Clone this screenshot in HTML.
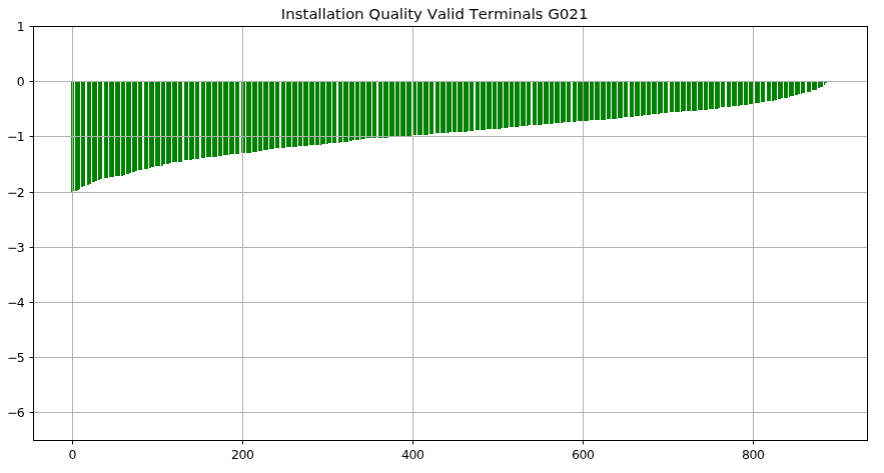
<!DOCTYPE html>
<html lang="en"><head><meta charset="utf-8"><title>Installation Quality Valid Terminals G021</title>
<style>html,body{margin:0;padding:0;background:#fff}svg{display:block}text{font-family:"DejaVu Sans","Liberation Sans",sans-serif;fill:#000;font-kerning:none;font-variant-ligatures:none}</style>
</head><body>
<svg width="884" height="473" viewBox="0 0 884 473">
<rect x="0" y="0" width="884" height="473" fill="#fff"/>
<defs><filter id="r27" x="-20%" y="-20%" width="140%" height="140%" color-interpolation-filters="sRGB"><feOffset in="SourceGraphic" dx="1" dy="0" result="s"/><feComposite in="SourceGraphic" in2="s" operator="arithmetic" k1="0" k2="0.73" k3="0.27" k4="0"/></filter><filter id="r47" x="-20%" y="-20%" width="140%" height="140%" color-interpolation-filters="sRGB"><feOffset in="SourceGraphic" dx="1" dy="0" result="s"/><feComposite in="SourceGraphic" in2="s" operator="arithmetic" k1="0" k2="0.53" k3="0.47" k4="0"/></filter><filter id="r49" x="-20%" y="-20%" width="140%" height="140%" color-interpolation-filters="sRGB"><feOffset in="SourceGraphic" dx="1" dy="0" result="s"/><feComposite in="SourceGraphic" in2="s" operator="arithmetic" k1="0" k2="0.51" k3="0.49" k4="0"/></filter><filter id="r66" x="-20%" y="-20%" width="140%" height="140%" color-interpolation-filters="sRGB"><feOffset in="SourceGraphic" dx="1" dy="0" result="s"/><feComposite in="SourceGraphic" in2="s" operator="arithmetic" k1="0" k2="0.34" k3="0.66" k4="0"/></filter><filter id="r8" x="-20%" y="-20%" width="140%" height="140%" color-interpolation-filters="sRGB"><feOffset in="SourceGraphic" dx="1" dy="0" result="s"/><feComposite in="SourceGraphic" in2="s" operator="arithmetic" k1="0" k2="0.92" k3="0.08" k4="0"/></filter><filter id="r85" x="-20%" y="-20%" width="140%" height="140%" color-interpolation-filters="sRGB"><feOffset in="SourceGraphic" dx="1" dy="0" result="s"/><feComposite in="SourceGraphic" in2="s" operator="arithmetic" k1="0" k2="0.15" k3="0.85" k4="0"/></filter></defs>
<g shape-rendering="crispEdges">
<rect x="71" y="82" width="1" height="110" fill="#158a15"/>
<rect x="72" y="82" width="1" height="110" fill="#a2aca2"/>
<rect x="73" y="82" width="1" height="109" fill="#0f840f"/>
<rect x="74" y="82" width="1" height="109" fill="#eaf4ea"/>
<rect x="75" y="82" width="1" height="109" fill="#168b16"/>
<rect x="76" y="82" width="1" height="109" fill="#008000"/>
<rect x="77" y="82" width="2" height="108" fill="#008000"/>
<rect x="79" y="82" width="1" height="107" fill="#008000"/>
<rect x="80" y="82" width="1" height="107" fill="#e8f3e8"/>
<rect x="81" y="82" width="1" height="105" fill="#188c18"/>
<rect x="82" y="82" width="1" height="105" fill="#008000"/>
<rect x="83" y="82" width="2" height="104" fill="#008000"/>
<rect x="85" y="82" width="1" height="104" fill="#e6f3e6"/>
<rect x="87" y="82" width="1" height="103" fill="#198d19"/>
<rect x="88" y="82" width="1" height="103" fill="#008000"/>
<rect x="89" y="82" width="2" height="102" fill="#008000"/>
<rect x="91" y="82" width="1" height="102" fill="#e5f2e5"/>
<rect x="92" y="82" width="1" height="100" fill="#1b8d1b"/>
<rect x="93" y="82" width="2" height="100" fill="#008000"/>
<rect x="95" y="82" width="2" height="99" fill="#008000"/>
<rect x="97" y="82" width="1" height="99" fill="#e3f1e3"/>
<rect x="98" y="82" width="1" height="98" fill="#1c8e1c"/>
<rect x="99" y="82" width="1" height="98" fill="#008000"/>
<rect x="100" y="82" width="2" height="97" fill="#008000"/>
<rect x="102" y="82" width="1" height="97" fill="#e1f0e1"/>
<rect x="104" y="82" width="1" height="96" fill="#1e8f1e"/>
<rect x="105" y="82" width="3" height="96" fill="#008000"/>
<rect x="108" y="82" width="1" height="96" fill="#e0efe0"/>
<rect x="109" y="82" width="1" height="95" fill="#209020"/>
<rect x="110" y="82" width="4" height="95" fill="#008000"/>
<rect x="114" y="82" width="1" height="95" fill="#deefde"/>
<rect x="115" y="82" width="1" height="94" fill="#219121"/>
<rect x="116" y="82" width="4" height="94" fill="#008000"/>
<rect x="120" y="82" width="1" height="94" fill="#dceedc"/>
<rect x="121" y="82" width="1" height="94" fill="#239123"/>
<rect x="122" y="82" width="1" height="94" fill="#008000"/>
<rect x="123" y="82" width="2" height="93" fill="#008000"/>
<rect x="125" y="82" width="1" height="93" fill="#dbeddb"/>
<rect x="126" y="82" width="1" height="92" fill="#249224"/>
<rect x="127" y="82" width="2" height="92" fill="#008000"/>
<rect x="129" y="82" width="2" height="91" fill="#008000"/>
<rect x="131" y="82" width="1" height="91" fill="#d9ecd9"/>
<rect x="132" y="82" width="1" height="90" fill="#269326"/>
<rect x="133" y="82" width="2" height="90" fill="#008000"/>
<rect x="135" y="82" width="2" height="89" fill="#008000"/>
<rect x="137" y="82" width="1" height="89" fill="#d7ebd7"/>
<rect x="138" y="82" width="1" height="88" fill="#289428"/>
<rect x="139" y="82" width="3" height="88" fill="#008000"/>
<rect x="142" y="82" width="1" height="88" fill="#d6ebd6"/>
<rect x="144" y="82" width="1" height="87" fill="#2a952a"/>
<rect x="145" y="82" width="3" height="87" fill="#008000"/>
<rect x="148" y="82" width="1" height="86" fill="#d4ead4"/>
<rect x="149" y="82" width="1" height="86" fill="#2b952b"/>
<rect x="150" y="82" width="1" height="86" fill="#008000"/>
<rect x="151" y="82" width="3" height="85" fill="#008000"/>
<rect x="154" y="82" width="1" height="85" fill="#d2e9d2"/>
<rect x="155" y="82" width="1" height="84" fill="#2d962d"/>
<rect x="156" y="82" width="4" height="84" fill="#008000"/>
<rect x="160" y="82" width="1" height="84" fill="#d1e8d1"/>
<rect x="161" y="82" width="1" height="84" fill="#2f972f"/>
<rect x="162" y="82" width="1" height="84" fill="#008000"/>
<rect x="163" y="82" width="2" height="82" fill="#008000"/>
<rect x="165" y="82" width="1" height="82" fill="#cfe7cf"/>
<rect x="166" y="82" width="1" height="82" fill="#309830"/>
<rect x="167" y="82" width="2" height="82" fill="#008000"/>
<rect x="169" y="82" width="2" height="81" fill="#008000"/>
<rect x="171" y="82" width="1" height="81" fill="#cee6ce"/>
<rect x="172" y="82" width="1" height="80" fill="#329932"/>
<rect x="173" y="82" width="4" height="80" fill="#008000"/>
<rect x="177" y="82" width="1" height="80" fill="#cce5cc"/>
<rect x="178" y="82" width="1" height="80" fill="#339a33"/>
<rect x="179" y="82" width="3" height="80" fill="#008000"/>
<rect x="182" y="82" width="1" height="80" fill="#cae5ca"/>
<rect x="184" y="82" width="1" height="78" fill="#359b35"/>
<rect x="185" y="82" width="3" height="78" fill="#008000"/>
<rect x="188" y="82" width="1" height="78" fill="#c9e4c9"/>
<rect x="189" y="82" width="1" height="78" fill="#379b37"/>
<rect x="190" y="82" width="2" height="78" fill="#008000"/>
<rect x="192" y="82" width="2" height="77" fill="#008000"/>
<rect x="194" y="82" width="1" height="77" fill="#c7e3c7"/>
<rect x="195" y="82" width="1" height="77" fill="#389c38"/>
<rect x="196" y="82" width="3" height="77" fill="#008000"/>
<rect x="199" y="82" width="1" height="77" fill="#c5e2c5"/>
<rect x="201" y="82" width="1" height="76" fill="#3a9d3a"/>
<rect x="202" y="82" width="3" height="76" fill="#008000"/>
<rect x="205" y="82" width="1" height="76" fill="#c4e1c4"/>
<rect x="206" y="82" width="1" height="75" fill="#3c9e3c"/>
<rect x="207" y="82" width="4" height="75" fill="#008000"/>
<rect x="211" y="82" width="1" height="75" fill="#c2e1c2"/>
<rect x="212" y="82" width="1" height="75" fill="#3d9f3d"/>
<rect x="213" y="82" width="4" height="75" fill="#008000"/>
<rect x="217" y="82" width="1" height="75" fill="#c0e0c0"/>
<rect x="218" y="82" width="1" height="74" fill="#3f9f3f"/>
<rect x="219" y="82" width="3" height="74" fill="#008000"/>
<rect x="222" y="82" width="1" height="74" fill="#bfdfbf"/>
<rect x="223" y="82" width="1" height="73" fill="#40a040"/>
<rect x="224" y="82" width="4" height="73" fill="#008000"/>
<rect x="228" y="82" width="1" height="73" fill="#bddebd"/>
<rect x="229" y="82" width="1" height="73" fill="#42a142"/>
<rect x="230" y="82" width="4" height="72" fill="#008000"/>
<rect x="234" y="82" width="1" height="72" fill="#bbddbb"/>
<rect x="235" y="82" width="1" height="72" fill="#44a244"/>
<rect x="236" y="82" width="3" height="72" fill="#008000"/>
<rect x="239" y="82" width="1" height="72" fill="#baddba"/>
<rect x="241" y="82" width="1" height="71" fill="#46a346"/>
<rect x="242" y="82" width="1" height="71" fill="#80a380"/>
<rect x="243" y="82" width="1" height="71" fill="#308d30"/>
<rect x="244" y="82" width="1" height="71" fill="#008000"/>
<rect x="245" y="82" width="1" height="71" fill="#b8dcb8"/>
<rect x="246" y="82" width="1" height="71" fill="#47a347"/>
<rect x="247" y="82" width="4" height="71" fill="#008000"/>
<rect x="251" y="82" width="1" height="71" fill="#b6dbb6"/>
<rect x="252" y="82" width="1" height="70" fill="#49a449"/>
<rect x="253" y="82" width="4" height="70" fill="#008000"/>
<rect x="257" y="82" width="1" height="70" fill="#b5dab5"/>
<rect x="258" y="82" width="1" height="69" fill="#4ba54b"/>
<rect x="259" y="82" width="3" height="69" fill="#008000"/>
<rect x="262" y="82" width="1" height="69" fill="#b3d9b3"/>
<rect x="263" y="82" width="1" height="68" fill="#4ca64c"/>
<rect x="264" y="82" width="4" height="68" fill="#008000"/>
<rect x="268" y="82" width="1" height="68" fill="#b2d8b2"/>
<rect x="269" y="82" width="1" height="67" fill="#4ea74e"/>
<rect x="270" y="82" width="4" height="67" fill="#008000"/>
<rect x="274" y="82" width="1" height="66" fill="#b0d8b0"/>
<rect x="275" y="82" width="1" height="66" fill="#4fa84f"/>
<rect x="276" y="82" width="3" height="66" fill="#008000"/>
<rect x="279" y="82" width="1" height="66" fill="#aed7ae"/>
<rect x="281" y="82" width="1" height="66" fill="#51a851"/>
<rect x="282" y="82" width="3" height="66" fill="#008000"/>
<rect x="285" y="82" width="1" height="66" fill="#add6ad"/>
<rect x="286" y="82" width="1" height="65" fill="#53a953"/>
<rect x="287" y="82" width="4" height="65" fill="#008000"/>
<rect x="291" y="82" width="1" height="65" fill="#abd5ab"/>
<rect x="292" y="82" width="1" height="65" fill="#54aa54"/>
<rect x="293" y="82" width="4" height="65" fill="#008000"/>
<rect x="297" y="82" width="1" height="65" fill="#a9d4a9"/>
<rect x="298" y="82" width="1" height="64" fill="#56ab56"/>
<rect x="299" y="82" width="3" height="64" fill="#008000"/>
<rect x="302" y="82" width="1" height="64" fill="#a8d4a8"/>
<rect x="303" y="82" width="1" height="64" fill="#58ac58"/>
<rect x="304" y="82" width="4" height="64" fill="#008000"/>
<rect x="308" y="82" width="1" height="63" fill="#a6d3a6"/>
<rect x="309" y="82" width="1" height="63" fill="#59ac59"/>
<rect x="310" y="82" width="4" height="63" fill="#008000"/>
<rect x="314" y="82" width="1" height="63" fill="#a4d2a4"/>
<rect x="315" y="82" width="1" height="63" fill="#5bad5b"/>
<rect x="316" y="82" width="3" height="63" fill="#008000"/>
<rect x="319" y="82" width="1" height="63" fill="#a3d1a3"/>
<rect x="320" y="82" width="1" height="63" fill="#5cae5c"/>
<rect x="321" y="82" width="1" height="63" fill="#008000"/>
<rect x="322" y="82" width="3" height="62" fill="#008000"/>
<rect x="325" y="82" width="1" height="62" fill="#a1d0a1"/>
<rect x="326" y="82" width="1" height="62" fill="#5eaf5e"/>
<rect x="327" y="82" width="1" height="62" fill="#008000"/>
<rect x="328" y="82" width="3" height="61" fill="#008000"/>
<rect x="331" y="82" width="1" height="61" fill="#9fcf9f"/>
<rect x="332" y="82" width="1" height="61" fill="#60b060"/>
<rect x="333" y="82" width="3" height="61" fill="#008000"/>
<rect x="336" y="82" width="1" height="61" fill="#9ecf9e"/>
<rect x="338" y="82" width="1" height="61" fill="#62b162"/>
<rect x="339" y="82" width="1" height="61" fill="#008000"/>
<rect x="340" y="82" width="2" height="60" fill="#008000"/>
<rect x="342" y="82" width="1" height="60" fill="#9cce9c"/>
<rect x="343" y="82" width="1" height="60" fill="#63b163"/>
<rect x="344" y="82" width="4" height="60" fill="#008000"/>
<rect x="348" y="82" width="1" height="60" fill="#9acd9a"/>
<rect x="349" y="82" width="1" height="59" fill="#65b265"/>
<rect x="350" y="82" width="2" height="59" fill="#008000"/>
<rect x="352" y="82" width="2" height="58" fill="#008000"/>
<rect x="354" y="82" width="1" height="58" fill="#99cc99"/>
<rect x="355" y="82" width="1" height="58" fill="#67b367"/>
<rect x="356" y="82" width="3" height="58" fill="#008000"/>
<rect x="359" y="82" width="1" height="58" fill="#97cb97"/>
<rect x="360" y="82" width="1" height="58" fill="#68b468"/>
<rect x="361" y="82" width="4" height="57" fill="#008000"/>
<rect x="365" y="82" width="1" height="56" fill="#96ca96"/>
<rect x="366" y="82" width="1" height="56" fill="#6ab56a"/>
<rect x="367" y="82" width="4" height="56" fill="#008000"/>
<rect x="371" y="82" width="1" height="56" fill="#94ca94"/>
<rect x="372" y="82" width="1" height="56" fill="#6bb66b"/>
<rect x="373" y="82" width="3" height="56" fill="#008000"/>
<rect x="376" y="82" width="1" height="56" fill="#92c992"/>
<rect x="378" y="82" width="1" height="56" fill="#6db66d"/>
<rect x="379" y="82" width="3" height="56" fill="#008000"/>
<rect x="382" y="82" width="1" height="56" fill="#91c891"/>
<rect x="383" y="82" width="1" height="56" fill="#6fb76f"/>
<rect x="384" y="82" width="4" height="56" fill="#008000"/>
<rect x="388" y="82" width="1" height="55" fill="#8fc78f"/>
<rect x="389" y="82" width="1" height="55" fill="#70b870"/>
<rect x="390" y="82" width="4" height="55" fill="#008000"/>
<rect x="394" y="82" width="1" height="55" fill="#8dc68d"/>
<rect x="395" y="82" width="1" height="55" fill="#72b972"/>
<rect x="396" y="82" width="3" height="55" fill="#008000"/>
<rect x="399" y="82" width="1" height="55" fill="#8cc68c"/>
<rect x="400" y="82" width="1" height="55" fill="#74ba74"/>
<rect x="401" y="82" width="4" height="55" fill="#008000"/>
<rect x="405" y="82" width="1" height="55" fill="#8ac58a"/>
<rect x="406" y="82" width="1" height="55" fill="#75ba75"/>
<rect x="407" y="82" width="4" height="55" fill="#008000"/>
<rect x="411" y="82" width="1" height="55" fill="#88c488"/>
<rect x="412" y="82" width="1" height="55" fill="#d5d5d5"/>
<rect x="413" y="82" width="1" height="53" fill="#529652"/>
<rect x="414" y="82" width="2" height="53" fill="#008000"/>
<rect x="416" y="82" width="1" height="53" fill="#87c387"/>
<rect x="417" y="82" width="1" height="53" fill="#78bc78"/>
<rect x="418" y="82" width="4" height="53" fill="#008000"/>
<rect x="422" y="82" width="1" height="53" fill="#85c285"/>
<rect x="423" y="82" width="1" height="53" fill="#7abd7a"/>
<rect x="424" y="82" width="4" height="53" fill="#008000"/>
<rect x="428" y="82" width="1" height="52" fill="#83c183"/>
<rect x="429" y="82" width="1" height="52" fill="#7cbe7c"/>
<rect x="430" y="82" width="3" height="52" fill="#008000"/>
<rect x="433" y="82" width="1" height="52" fill="#82c182"/>
<rect x="435" y="82" width="1" height="51" fill="#7ebf7e"/>
<rect x="436" y="82" width="3" height="51" fill="#008000"/>
<rect x="439" y="82" width="1" height="51" fill="#80c080"/>
<rect x="440" y="82" width="1" height="51" fill="#7fbf7f"/>
<rect x="441" y="82" width="4" height="51" fill="#008000"/>
<rect x="445" y="82" width="1" height="51" fill="#7ebf7e"/>
<rect x="446" y="82" width="1" height="51" fill="#81c081"/>
<rect x="447" y="82" width="2" height="51" fill="#008000"/>
<rect x="449" y="82" width="2" height="50" fill="#008000"/>
<rect x="451" y="82" width="1" height="50" fill="#7dbe7d"/>
<rect x="452" y="82" width="1" height="50" fill="#83c183"/>
<rect x="453" y="82" width="3" height="50" fill="#008000"/>
<rect x="456" y="82" width="1" height="50" fill="#7bbd7b"/>
<rect x="457" y="82" width="1" height="50" fill="#84c284"/>
<rect x="458" y="82" width="4" height="50" fill="#008000"/>
<rect x="462" y="82" width="1" height="50" fill="#7abd7a"/>
<rect x="463" y="82" width="1" height="50" fill="#86c386"/>
<rect x="464" y="82" width="3" height="50" fill="#008000"/>
<rect x="467" y="82" width="1" height="49" fill="#008000"/>
<rect x="468" y="82" width="1" height="49" fill="#78bc78"/>
<rect x="469" y="82" width="1" height="49" fill="#87c387"/>
<rect x="470" y="82" width="3" height="49" fill="#008000"/>
<rect x="473" y="82" width="1" height="49" fill="#76bb76"/>
<rect x="475" y="82" width="1" height="48" fill="#89c489"/>
<rect x="476" y="82" width="3" height="48" fill="#008000"/>
<rect x="479" y="82" width="1" height="48" fill="#75ba75"/>
<rect x="480" y="82" width="1" height="48" fill="#8bc58b"/>
<rect x="481" y="82" width="4" height="48" fill="#008000"/>
<rect x="485" y="82" width="1" height="48" fill="#73b973"/>
<rect x="486" y="82" width="1" height="47" fill="#8cc68c"/>
<rect x="487" y="82" width="4" height="47" fill="#008000"/>
<rect x="491" y="82" width="1" height="47" fill="#71b871"/>
<rect x="492" y="82" width="1" height="47" fill="#8ec78e"/>
<rect x="493" y="82" width="3" height="47" fill="#008000"/>
<rect x="496" y="82" width="1" height="47" fill="#70b870"/>
<rect x="497" y="82" width="1" height="47" fill="#90c790"/>
<rect x="498" y="82" width="3" height="47" fill="#008000"/>
<rect x="501" y="82" width="1" height="46" fill="#008000"/>
<rect x="502" y="82" width="1" height="46" fill="#6eb76e"/>
<rect x="503" y="82" width="1" height="46" fill="#91c891"/>
<rect x="504" y="82" width="4" height="46" fill="#008000"/>
<rect x="508" y="82" width="1" height="45" fill="#6cb66c"/>
<rect x="509" y="82" width="1" height="45" fill="#93c993"/>
<rect x="510" y="82" width="3" height="45" fill="#008000"/>
<rect x="513" y="82" width="1" height="45" fill="#6bb56b"/>
<rect x="514" y="82" width="1" height="45" fill="#94ca94"/>
<rect x="515" y="82" width="4" height="45" fill="#008000"/>
<rect x="519" y="82" width="1" height="44" fill="#69b469"/>
<rect x="520" y="82" width="1" height="44" fill="#96cb96"/>
<rect x="521" y="82" width="4" height="44" fill="#008000"/>
<rect x="525" y="82" width="1" height="44" fill="#67b467"/>
<rect x="526" y="82" width="1" height="44" fill="#98cc98"/>
<rect x="527" y="82" width="1" height="44" fill="#008000"/>
<rect x="528" y="82" width="2" height="43" fill="#008000"/>
<rect x="530" y="82" width="1" height="43" fill="#66b366"/>
<rect x="532" y="82" width="1" height="43" fill="#9acd9a"/>
<rect x="533" y="82" width="3" height="43" fill="#008000"/>
<rect x="536" y="82" width="1" height="43" fill="#64b264"/>
<rect x="537" y="82" width="1" height="43" fill="#9bcd9b"/>
<rect x="538" y="82" width="4" height="43" fill="#008000"/>
<rect x="542" y="82" width="1" height="42" fill="#63b163"/>
<rect x="543" y="82" width="1" height="42" fill="#9dce9d"/>
<rect x="544" y="82" width="4" height="42" fill="#008000"/>
<rect x="548" y="82" width="1" height="42" fill="#61b061"/>
<rect x="549" y="82" width="1" height="42" fill="#9fcf9f"/>
<rect x="550" y="82" width="3" height="42" fill="#008000"/>
<rect x="553" y="82" width="1" height="41" fill="#5faf5f"/>
<rect x="554" y="82" width="1" height="41" fill="#a0d0a0"/>
<rect x="555" y="82" width="4" height="41" fill="#008000"/>
<rect x="559" y="82" width="1" height="41" fill="#5eaf5e"/>
<rect x="560" y="82" width="1" height="41" fill="#a2d1a2"/>
<rect x="561" y="82" width="2" height="41" fill="#008000"/>
<rect x="563" y="82" width="2" height="40" fill="#008000"/>
<rect x="565" y="82" width="1" height="40" fill="#5cae5c"/>
<rect x="566" y="82" width="1" height="40" fill="#a3d1a3"/>
<rect x="567" y="82" width="3" height="40" fill="#008000"/>
<rect x="570" y="82" width="1" height="40" fill="#5aad5a"/>
<rect x="572" y="82" width="1" height="40" fill="#a5d2a5"/>
<rect x="573" y="82" width="3" height="40" fill="#008000"/>
<rect x="576" y="82" width="1" height="39" fill="#59ac59"/>
<rect x="577" y="82" width="1" height="39" fill="#a7d3a7"/>
<rect x="578" y="82" width="4" height="39" fill="#008000"/>
<rect x="582" y="82" width="1" height="39" fill="#3c903c"/>
<rect x="583" y="82" width="1" height="39" fill="#74a074"/>
<rect x="584" y="82" width="4" height="39" fill="#008000"/>
<rect x="588" y="82" width="1" height="39" fill="#55aa55"/>
<rect x="589" y="82" width="1" height="38" fill="#aad5aa"/>
<rect x="590" y="82" width="3" height="38" fill="#008000"/>
<rect x="593" y="82" width="1" height="38" fill="#54aa54"/>
<rect x="594" y="82" width="1" height="38" fill="#abd5ab"/>
<rect x="595" y="82" width="4" height="38" fill="#008000"/>
<rect x="599" y="82" width="1" height="38" fill="#52a952"/>
<rect x="600" y="82" width="1" height="38" fill="#add6ad"/>
<rect x="601" y="82" width="4" height="38" fill="#008000"/>
<rect x="605" y="82" width="1" height="38" fill="#50a850"/>
<rect x="606" y="82" width="1" height="37" fill="#afd7af"/>
<rect x="607" y="82" width="3" height="37" fill="#008000"/>
<rect x="610" y="82" width="1" height="37" fill="#4fa74f"/>
<rect x="611" y="82" width="1" height="37" fill="#b0d8b0"/>
<rect x="612" y="82" width="4" height="37" fill="#008000"/>
<rect x="616" y="82" width="1" height="37" fill="#4da64d"/>
<rect x="617" y="82" width="1" height="37" fill="#b2d9b2"/>
<rect x="618" y="82" width="4" height="36" fill="#008000"/>
<rect x="622" y="82" width="1" height="36" fill="#4ba64b"/>
<rect x="623" y="82" width="1" height="35" fill="#b4dab4"/>
<rect x="624" y="82" width="3" height="35" fill="#008000"/>
<rect x="627" y="82" width="1" height="35" fill="#4aa54a"/>
<rect x="629" y="82" width="1" height="35" fill="#b6dab6"/>
<rect x="630" y="82" width="3" height="35" fill="#008000"/>
<rect x="633" y="82" width="1" height="35" fill="#48a448"/>
<rect x="634" y="82" width="1" height="34" fill="#b7dbb7"/>
<rect x="635" y="82" width="4" height="34" fill="#008000"/>
<rect x="639" y="82" width="1" height="34" fill="#47a347"/>
<rect x="640" y="82" width="1" height="34" fill="#b9dcb9"/>
<rect x="641" y="82" width="2" height="34" fill="#008000"/>
<rect x="643" y="82" width="2" height="33" fill="#008000"/>
<rect x="645" y="82" width="1" height="33" fill="#45a245"/>
<rect x="646" y="82" width="1" height="33" fill="#baddba"/>
<rect x="647" y="82" width="3" height="33" fill="#008000"/>
<rect x="650" y="82" width="1" height="33" fill="#43a243"/>
<rect x="651" y="82" width="1" height="32" fill="#bcdebc"/>
<rect x="652" y="82" width="4" height="32" fill="#008000"/>
<rect x="656" y="82" width="1" height="32" fill="#42a142"/>
<rect x="657" y="82" width="1" height="32" fill="#bedebe"/>
<rect x="658" y="82" width="2" height="32" fill="#008000"/>
<rect x="660" y="82" width="2" height="31" fill="#008000"/>
<rect x="662" y="82" width="1" height="31" fill="#40a040"/>
<rect x="663" y="82" width="1" height="31" fill="#bfdfbf"/>
<rect x="664" y="82" width="3" height="31" fill="#008000"/>
<rect x="667" y="82" width="1" height="31" fill="#3e9f3e"/>
<rect x="669" y="82" width="1" height="30" fill="#c1e0c1"/>
<rect x="670" y="82" width="3" height="30" fill="#008000"/>
<rect x="673" y="82" width="1" height="30" fill="#3d9e3d"/>
<rect x="674" y="82" width="1" height="30" fill="#c3e1c3"/>
<rect x="675" y="82" width="4" height="30" fill="#008000"/>
<rect x="679" y="82" width="1" height="30" fill="#3b9d3b"/>
<rect x="680" y="82" width="1" height="30" fill="#c4e2c4"/>
<rect x="681" y="82" width="1" height="30" fill="#008000"/>
<rect x="682" y="82" width="3" height="29" fill="#008000"/>
<rect x="685" y="82" width="1" height="29" fill="#399d39"/>
<rect x="686" y="82" width="1" height="29" fill="#c6e3c6"/>
<rect x="687" y="82" width="3" height="29" fill="#008000"/>
<rect x="690" y="82" width="1" height="29" fill="#389c38"/>
<rect x="691" y="82" width="1" height="29" fill="#c7e3c7"/>
<rect x="692" y="82" width="4" height="29" fill="#008000"/>
<rect x="696" y="82" width="1" height="29" fill="#369b36"/>
<rect x="697" y="82" width="1" height="29" fill="#c9e4c9"/>
<rect x="698" y="82" width="4" height="28" fill="#008000"/>
<rect x="702" y="82" width="1" height="28" fill="#349a34"/>
<rect x="703" y="82" width="1" height="28" fill="#cbe5cb"/>
<rect x="704" y="82" width="3" height="28" fill="#008000"/>
<rect x="707" y="82" width="1" height="28" fill="#339933"/>
<rect x="708" y="82" width="1" height="28" fill="#cce6cc"/>
<rect x="709" y="82" width="4" height="27" fill="#008000"/>
<rect x="713" y="82" width="1" height="27" fill="#319831"/>
<rect x="714" y="82" width="1" height="27" fill="#cee7ce"/>
<rect x="715" y="82" width="3" height="27" fill="#008000"/>
<rect x="718" y="82" width="1" height="26" fill="#008000"/>
<rect x="719" y="82" width="1" height="26" fill="#2f982f"/>
<rect x="720" y="82" width="1" height="25" fill="#d0e8d0"/>
<rect x="721" y="82" width="3" height="25" fill="#008000"/>
<rect x="724" y="82" width="1" height="25" fill="#2e972e"/>
<rect x="726" y="82" width="1" height="25" fill="#d2e8d2"/>
<rect x="727" y="82" width="3" height="25" fill="#008000"/>
<rect x="730" y="82" width="1" height="25" fill="#2c962c"/>
<rect x="731" y="82" width="1" height="25" fill="#d3e9d3"/>
<rect x="732" y="82" width="4" height="24" fill="#008000"/>
<rect x="736" y="82" width="1" height="24" fill="#2b952b"/>
<rect x="737" y="82" width="1" height="24" fill="#d5ead5"/>
<rect x="738" y="82" width="2" height="24" fill="#008000"/>
<rect x="740" y="82" width="2" height="23" fill="#008000"/>
<rect x="742" y="82" width="1" height="23" fill="#299429"/>
<rect x="743" y="82" width="1" height="23" fill="#d6ebd6"/>
<rect x="744" y="82" width="3" height="23" fill="#008000"/>
<rect x="747" y="82" width="1" height="23" fill="#279427"/>
<rect x="748" y="82" width="1" height="23" fill="#d8ecd8"/>
<rect x="749" y="82" width="3" height="22" fill="#008000"/>
<rect x="752" y="82" width="1" height="22" fill="#1a871a"/>
<rect x="753" y="82" width="1" height="22" fill="#bcbcbc"/>
<rect x="754" y="82" width="1" height="21" fill="#daecda"/>
<rect x="755" y="82" width="4" height="21" fill="#008000"/>
<rect x="759" y="82" width="1" height="21" fill="#249224"/>
<rect x="760" y="82" width="1" height="21" fill="#dbeddb"/>
<rect x="761" y="82" width="3" height="20" fill="#008000"/>
<rect x="764" y="82" width="1" height="20" fill="#229122"/>
<rect x="766" y="82" width="1" height="19" fill="#ddeedd"/>
<rect x="767" y="82" width="3" height="19" fill="#008000"/>
<rect x="770" y="82" width="1" height="19" fill="#219021"/>
<rect x="771" y="82" width="1" height="19" fill="#dfefdf"/>
<rect x="772" y="82" width="2" height="19" fill="#008000"/>
<rect x="774" y="82" width="2" height="18" fill="#008000"/>
<rect x="776" y="82" width="1" height="18" fill="#1f8f1f"/>
<rect x="777" y="82" width="1" height="18" fill="#e0f0e0"/>
<rect x="778" y="82" width="3" height="17" fill="#008000"/>
<rect x="781" y="82" width="1" height="16" fill="#008000"/>
<rect x="782" y="82" width="1" height="16" fill="#1d8f1d"/>
<rect x="783" y="82" width="1" height="16" fill="#e2f1e2"/>
<rect x="784" y="82" width="3" height="16" fill="#008000"/>
<rect x="787" y="82" width="1" height="16" fill="#1c8e1c"/>
<rect x="788" y="82" width="1" height="16" fill="#e3f1e3"/>
<rect x="789" y="82" width="1" height="15" fill="#008000"/>
<rect x="790" y="82" width="3" height="14" fill="#008000"/>
<rect x="793" y="82" width="1" height="14" fill="#1a8d1a"/>
<rect x="794" y="82" width="1" height="14" fill="#e5f2e5"/>
<rect x="795" y="82" width="3" height="13" fill="#008000"/>
<rect x="798" y="82" width="1" height="12" fill="#008000"/>
<rect x="799" y="82" width="1" height="12" fill="#188c18"/>
<rect x="800" y="82" width="1" height="12" fill="#e7f3e7"/>
<rect x="801" y="82" width="1" height="12" fill="#008000"/>
<rect x="802" y="82" width="2" height="11" fill="#008000"/>
<rect x="804" y="82" width="1" height="11" fill="#178b17"/>
<rect x="806" y="82" width="1" height="10" fill="#e9f4e9"/>
<rect x="807" y="82" width="3" height="10" fill="#008000"/>
<rect x="810" y="82" width="1" height="10" fill="#158b15"/>
<rect x="811" y="82" width="1" height="10" fill="#eaf5ea"/>
<rect x="812" y="82" width="4" height="8" fill="#008000"/>
<rect x="816" y="82" width="1" height="8" fill="#138a13"/>
<rect x="817" y="82" width="1" height="8" fill="#ecf5ec"/>
<rect x="818" y="82" width="2" height="6" fill="#008000"/>
<rect x="820" y="82" width="2" height="5" fill="#008000"/>
<rect x="822" y="82" width="1" height="5" fill="#128912"/>
<rect x="823" y="82" width="1" height="5" fill="#eef6ee"/>
<rect x="824" y="82" width="1" height="3" fill="#008000"/>
<rect x="825" y="82" width="1" height="1" fill="#008000"/>
<rect x="826" y="82" width="1" height="1" fill="#118811"/>
</g>
<g fill="#b0b0b0">
<rect x="72.08" y="27" width="1" height="55"/>
<rect x="72.08" y="192" width="1" height="248"/>
<rect x="242.27" y="27" width="1" height="55"/>
<rect x="242.27" y="153" width="1" height="287"/>
<rect x="412.47" y="27" width="1" height="55"/>
<rect x="412.47" y="137" width="1" height="303"/>
<rect x="582.66" y="27" width="1" height="55"/>
<rect x="582.66" y="121" width="1" height="319"/>
<rect x="752.85" y="27" width="1" height="55"/>
<rect x="752.85" y="104" width="1" height="336"/>
</g>
<g fill="#b0b0b0" shape-rendering="crispEdges">
<rect x="34" y="81" width="833" height="1"/>
<rect x="34" y="136" width="833" height="1"/>
<rect x="34" y="192" width="833" height="1"/>
<rect x="34" y="247" width="833" height="1"/>
<rect x="34" y="302" width="833" height="1"/>
<rect x="34" y="357" width="833" height="1"/>
<rect x="34" y="412" width="833" height="1"/>
</g>
<g fill="#000">
<rect x="72.08" y="441" width="1" height="3.4"/>
<rect x="242.27" y="441" width="1" height="3.4"/>
<rect x="412.47" y="441" width="1" height="3.4"/>
<rect x="582.66" y="441" width="1" height="3.4"/>
<rect x="752.85" y="441" width="1" height="3.4"/>
<rect x="29.60" y="26" width="3.4" height="1"/>
<rect x="29.60" y="81" width="3.4" height="1"/>
<rect x="29.60" y="136" width="3.4" height="1"/>
<rect x="29.60" y="192" width="3.4" height="1"/>
<rect x="29.60" y="247" width="3.4" height="1"/>
<rect x="29.60" y="302" width="3.4" height="1"/>
<rect x="29.60" y="357" width="3.4" height="1"/>
<rect x="29.60" y="412" width="3.4" height="1"/>
</g>
<g fill="#000">
<rect x="33.04" y="26" width="834.94" height="1"/>
<rect x="33.04" y="440" width="834.94" height="1"/>
<rect x="33.04" y="26" width="1" height="415"/>
<rect x="866.98" y="26" width="1" height="415"/>
</g>
<g font-size="12.5px" text-anchor="middle" letter-spacing="-0.45">
<text x="72.28" y="459" filter="url(#r8)">0</text>
<text x="242.28" y="459" filter="url(#r27)">200</text>
<text x="412.28" y="459" filter="url(#r47)">400</text>
<text x="582.28" y="459" filter="url(#r66)">600</text>
<text x="752.28" y="459" filter="url(#r85)">800</text>
</g>
<g font-size="12.5px" text-anchor="end">
<text x="24.7" y="31.0">1</text>
<text x="24.7" y="86.0">0</text>
<text x="24.7" y="141.0">−<tspan dx="-1">1</tspan></text>
<text x="24.7" y="197.0">−<tspan dx="-1">2</tspan></text>
<text x="24.7" y="252.0">−<tspan dx="-1">3</tspan></text>
<text x="24.7" y="307.0">−<tspan dx="-1">4</tspan></text>
<text x="24.7" y="362.0">−<tspan dx="-1">5</tspan></text>
<text x="24.7" y="417.0">−<tspan dx="-1">6</tspan></text>
</g>
<text transform="translate(434.11 19.0) scale(1 0.927)" font-size="15.0px" text-anchor="middle" filter="url(#r49)">Installation Quality Valid Terminals G021</text>
</svg>
</body></html>
